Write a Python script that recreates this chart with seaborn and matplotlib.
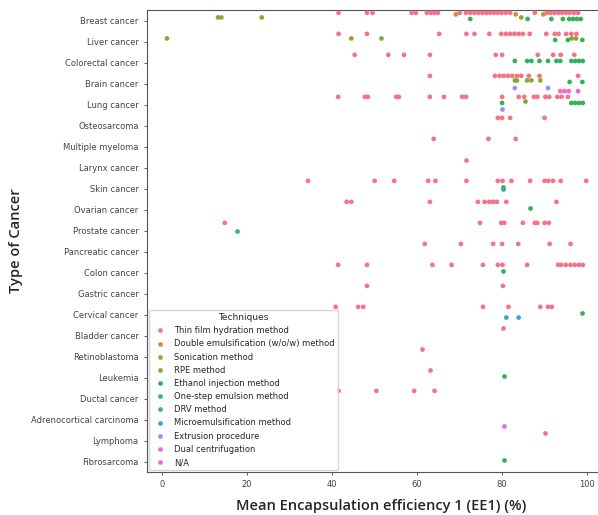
import matplotlib.pyplot as plt
import pandas as pd
import seaborn as sns

cancer_types = ["Breast cancer", "Liver cancer", "Colorectal cancer", "Brain cancer",
                "Lung cancer", "Osteosarcoma", "Multiple myeloma", "Larynx cancer",
                "Skin cancer", "Ovarian cancer", "Prostate cancer", "Pancreatic cancer",
                "Colon cancer", "Gastric cancer", "Cervical cancer", "Bladder cancer",
                "Retinoblastoma", "Leukemia", "Ductal cancer", "Adrenocortical carcinoma",
                "Lymphoma", "Fibrosarcoma"]

techniques = ["Thin film hydration method", "Double emulsification (w/o/w) method",
              "Sonication method", "RPE method", "Ethanol injection method",
              "One-step emulsion method", "DRV method", "Microemulsification method",
              "Extrusion procedure", "Dual centrifugation", "N/A"]

# EE1 values per cancer type, grouped by technique
breast = {
    "Thin film hydration method": [41.6, 48.3, 49.6, 58.8, 59.8, 62.4, 63.3, 64.2, 65.0, 70.1,
                                   71.6, 72.6, 73.6, 74.6, 75.5, 76.4, 77.3, 78.2, 79.1, 80.0,
                                   81.0, 82.0, 87.8, 90.6, 91.5, 92.4, 93.3, 94.2, 95.1, 96.0,
                                   97.0, 98.0],
    "Double emulsification (w/o/w) method": [69.2, 83.3, 89.8],
    "RPE method": [13.2, 14.0, 23.5, 84.6],
    "Ethanol injection method": [72.6, 86.1, 91.7, 94.4, 95.9, 96.8, 97.7, 98.6],
}
liver = {
    "Thin film hydration method": [41.6, 48.3, 65.3, 71.7, 73.6, 77.1, 79.9, 81.0, 82.0, 83.0,
                                   84.0, 85.0, 86.6, 90.5, 92.5, 93.4, 95.2, 96.4, 97.6],
    "RPE method": [1.2, 44.6, 51.7, 96.5, 97.5],
    "Ethanol injection method": [92.6, 95.6, 99.0],
}
colorectal = {
    "Thin film hydration method": [45.4, 53.3, 57.0, 63.1, 78.6, 80.1, 88.5, 92.1, 93.9, 97.1],
    "Ethanol injection method": [83.1, 86.0, 87.0, 88.9, 90.9, 92.9, 93.8, 96.4, 97.3, 98.2, 99.1],
}
brain = {
    "Thin film hydration method": [63.1, 78.4, 79.5, 80.5, 81.5, 82.5, 83.6, 84.6, 86.4, 88.9, 98.0],
    "RPE method": [83.1, 83.6, 86.0, 87.0, 89.1],
    "Ethanol injection method": [96.0, 99.0],
    "Extrusion procedure": [83.1, 90.9],
    "N/A": [93.8, 94.8, 95.8, 98.0],
}
lung = {
    "Thin film hydration method": [41.5, 47.8, 48.5, 55.2, 55.8, 63.1, 66.4, 70.7, 71.6, 80.1,
                                   84.0, 85.3, 87.6, 88.4, 90.3, 91.2, 93.1, 94.1, 95.6],
    "RPE method": [85.4],
    "Ethanol injection method": [80.1, 96.4, 97.3, 98.2, 99.1],
    "Extrusion procedure": [80.1],
}
osteosarcoma = {"Thin film hydration method": [79.1, 80.1, 82.0, 90.1]}
myeloma = {"Thin film hydration method": [64.0, 76.9, 83.3]}
larynx = {"Thin film hydration method": [71.7]}
skin = {
    "Thin film hydration method": [34.4, 50.1, 54.7, 62.7, 64.4, 71.7, 79.1, 80.2, 82.3, 86.7,
                                   90.1, 91.0, 92.1, 93.9, 99.9],
    "Ethanol injection method": [80.3],
    "One-step emulsion method": [80.4],
}
ovarian = {
    "Thin film hydration method": [43.5, 44.6, 63.1, 74.4, 76.0, 77.1, 78.0, 78.9, 81.1, 92.9],
    "Ethanol injection method": [86.6],
}
prostate = {
    "Thin film hydration method": [14.8, 74.9, 79.9, 80.6, 85.0, 87.8, 88.4, 90.1, 91.1],
    "One-step emulsion method": [17.7],
}
pancreatic = {"Thin film hydration method": [61.9, 70.4, 78.0, 80.1, 83.9, 91.3, 96.2]}
colon = {
    "Thin film hydration method": [41.5, 48.3, 63.7, 68.2, 75.6, 79.1, 80.2, 86.0, 93.3, 94.0,
                                   95.1, 96.2, 97.2, 98.2, 99.1],
    "Ethanol injection method": [80.3],
}
gastric = {"Thin film hydration method": [48.3, 80.3]}
cervical = {
    "Thin film hydration method": [40.9, 46.2, 47.4, 75.6, 81.6, 89.1, 90.9, 91.8],
    "Microemulsification method": [81.1, 84.0],
    "Ethanol injection method": [99.0],
}
bladder = {"Thin film hydration method": [80.2]}
retinoblastoma = {"Thin film hydration method": [61.3]}
leukemia = {"Thin film hydration method": [63.2], "Ethanol injection method": [80.5]}
ductal = {"Thin film hydration method": [41.6, 50.5, 59.4, 64.2]}
adrenocortical = {"Dual centrifugation": [80.5]}
lymphoma = {"Thin film hydration method": [90.1]}
fibrosarcoma = {"Ethanol injection method": [80.5]}

groups = [breast, liver, colorectal, brain, lung, osteosarcoma, myeloma, larynx, skin,
          ovarian, prostate, pancreatic, colon, gastric, cervical, bladder, retinoblastoma,
          leukemia, ductal, adrenocortical, lymphoma, fibrosarcoma]

rows = []
for cancer, group in zip(cancer_types, groups):
    for tech, vals in group.items():
        for v in vals:
            rows.append({"Cancer": cancer, "Technique": tech, "EE1": v})
df = pd.DataFrame(rows)

sns.set_style("ticks")
fig = plt.figure(figsize=(5.98, 5.15), dpi=100)
ax = fig.add_axes([147 / 598, 1 - 472 / 515, 460 / 598, 462 / 515])

sns.stripplot(data=df, x="EE1", y="Cancer", hue="Technique", order=cancer_types,
              hue_order=techniques, palette="husl", dodge=True, jitter=False,
              size=3.4, linewidth=0, ax=ax)

ax.set_xlim(-3.5, 104.8)
ax.set_xticks([0, 20, 40, 60, 80, 100])
ax.tick_params(labelsize=6, colors="#444444", length=2.5, width=0.6)
for s in ax.spines.values():
    s.set_linewidth(0.8)
    s.set_color("#555555")

ax.set_xlabel("Mean Encapsulation efficiency 1 (EE1) (%)", fontsize=10.5,
              family=["Open Sans", "DejaVu Sans"], fontweight="semibold")
ax.set_ylabel("Type of Cancer", fontsize=10.5,
              family=["Open Sans", "DejaVu Sans"], fontweight="semibold")
ax.xaxis.set_label_coords(0.51, -0.058)
ax.yaxis.set_label_coords(-0.27, 0.5)

leg = ax.legend(title="Techniques", loc="lower left", fontsize=6, title_fontsize=6.5,
                borderaxespad=0.2, labelspacing=0.5, handletextpad=0.6, markerscale=1.0)

fig.savefig("out.png", dpi=100)
